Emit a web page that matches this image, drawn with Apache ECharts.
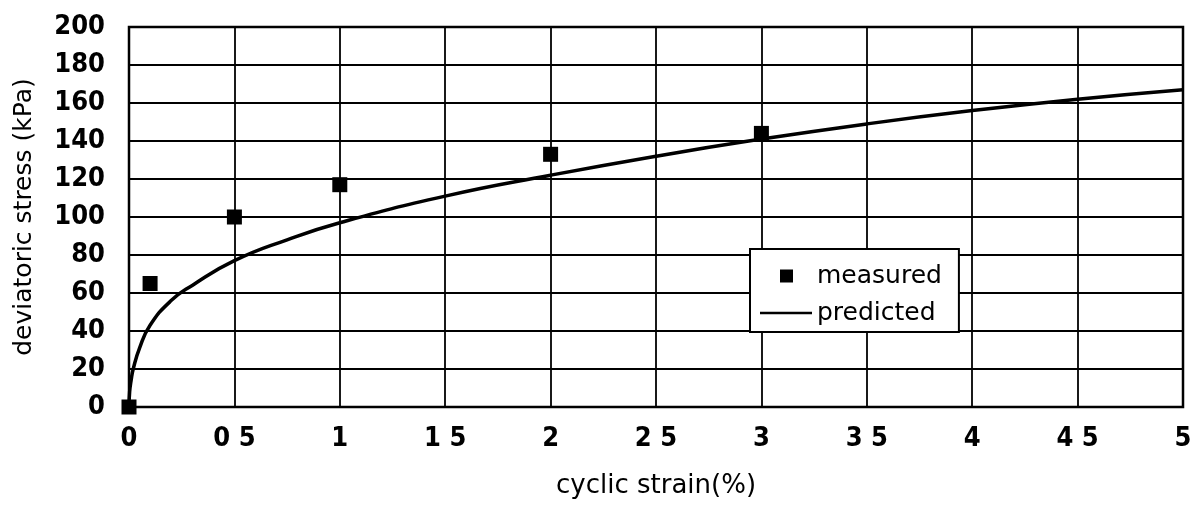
<!DOCTYPE html>
<html>
<head>
<meta charset="utf-8">
<script src="https://cdn.jsdelivr.net/npm/echarts@6/dist/echarts.min.js"></script>
<style>
    html, body { margin: 0; padding: 0; background: #fff; overflow: hidden; }
    #chart { width: 1193px; height: 505px; }
</style>
</head>
<body>
<div id="chart"></div>
<script>
// 测量点
var measuredStrain = [0, 0.1, 0.5, 1, 2, 3];
var measuredStress = [0, 65, 100, 117, 133, 144];

// 预测曲线
var predictedStrain = [0, 0.003, 0.01, 0.02, 0.05, 0.1, 0.2, 0.3, 0.5, 0.75, 1, 1.5, 2, 2.5, 3, 3.5, 4, 4.5, 5];
var predictedStress = [0, 8, 14, 20, 31, 43, 56, 64, 77, 88, 97, 111, 122, 132, 141, 149, 156, 162, 167];

// x轴刻度标签（原图小数点丢失）
var xTickLabels = ['0', '0 5', '1', '1 5', '2', '2 5', '3', '3 5', '4', '4 5', '5'];

var TICK_FONT = '"DejaVu Sans Condensed", "DejaVu Sans", sans-serif';
var TEXT_FONT = '"DejaVu Sans", sans-serif';

function zip(xs, ys) {
    var out = [];
    for (var i = 0; i < xs.length; i++) {
        out.push([xs[i], ys[i]]);
    }
    return out;
}

var chart = echarts.init(document.getElementById('chart'), null, { renderer: 'canvas' });

chart.setOption({
    animation: false,
    backgroundColor: '#fff',
    grid: {
        left: 129,
        right: 10,
        top: 27,
        bottom: 98,
        containLabel: false,
        outerBoundsMode: 'none',
        show: true,
        borderColor: '#000',
        borderWidth: 2.5,
        backgroundColor: 'transparent'
    },
    legend: {
        orient: 'vertical',
        left: 750,
        top: 249,
        backgroundColor: '#fff',
        borderColor: '#000',
        borderWidth: 2,
        padding: [13, 17, 5, 10],
        itemGap: 9,
        itemWidth: 52,
        itemHeight: 14,
        textStyle: {
            fontFamily: TEXT_FONT,
            fontSize: 25,
            lineHeight: 28,
            color: '#000'
        },
        data: [
            // 小方块，外加不可见的移动点撑开图标范围
            { name: 'measured', icon: 'path://M0,0 M52,14 M20,0.5 L33,0.5 L33,13.5 L20,13.5 Z' },
            { name: 'predicted', icon: 'path://M0,0 M52,14 M0,5.8 L52,5.8 L52,8.2 L0,8.2 Z' }
        ]
    },
    xAxis: {
        type: 'value',
        min: 0,
        max: 5,
        interval: 0.5,
        name: 'cyclic strain(%)',
        nameLocation: 'middle',
        nameGap: 66,
        nameTextStyle: { fontFamily: TEXT_FONT, fontSize: 26, color: '#000' },
        axisLine: { show: false },
        axisTick: { show: false },
        axisLabel: {
            margin: 18,
            fontFamily: TICK_FONT,
            fontWeight: 'bold',
            fontSize: 27,
            color: '#000',
            formatter: function (v) {
                return xTickLabels[Math.round(v * 2)];
            }
        },
        splitLine: { show: true, lineStyle: { color: '#000', width: 1.8 } }
    },
    yAxis: {
        type: 'value',
        min: 0,
        max: 200,
        interval: 20,
        name: 'deviatoric stress (kPa)',
        nameLocation: 'middle',
        nameGap: 92,
        nameTextStyle: { fontFamily: TEXT_FONT, fontSize: 25, color: '#000' },
        axisLine: { show: false },
        axisTick: { show: false },
        axisLabel: {
            margin: 24,
            fontFamily: TICK_FONT,
            fontWeight: 'bold',
            fontSize: 27,
            color: '#000'
        },
        splitLine: { show: true, lineStyle: { color: '#000', width: 1.8 } }
    },
    series: [
        {
            name: 'predicted',
            type: 'line',
            data: zip(predictedStrain, predictedStress),
            smooth: 0.5,
            symbol: 'none',
            lineStyle: { color: '#000', width: 3.5 },
            itemStyle: { color: '#000' },
            z: 3
        },
        {
            name: 'measured',
            type: 'scatter',
            data: zip(measuredStrain, measuredStress),
            symbol: 'rect',
            symbolSize: 15,
            itemStyle: { color: '#000', opacity: 1 },
            z: 4
        }
    ]
});
</script>
</body>
</html>
